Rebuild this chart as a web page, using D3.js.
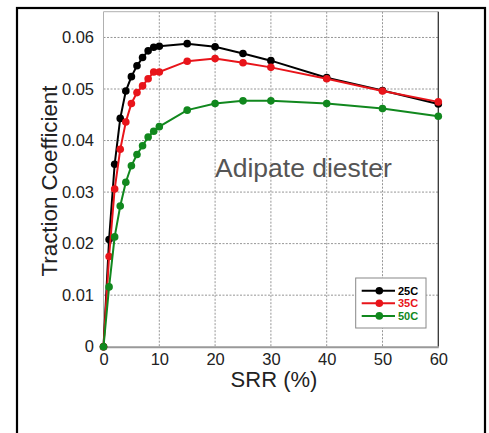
<!DOCTYPE html>
<html>
<head>
<meta charset="utf-8">
<script src="https://cdn.jsdelivr.net/npm/d3@7"></script>
<style>
  html, body { margin: 0; padding: 0; background: #fff; }
  svg { display: block; font-family: Arial, "Liberation Sans", sans-serif; }
</style>
</head>
<body>
<svg id="chart" width="489" height="433"></svg>
<script>
// Slide-to-roll ratio (%) at which traction was measured
const srr = [0, 1, 2, 3, 4, 5, 6, 7, 8, 9, 10, 15, 20, 25, 30, 40, 50, 60];

// Traction coefficient for each test temperature
const traction25C = [0, 0.0208, 0.0354, 0.0443, 0.0496, 0.0524, 0.0545, 0.0561, 0.0574, 0.0581, 0.0583,
                     0.0588, 0.0582, 0.0569, 0.0555, 0.0522, 0.0497, 0.0471];
const traction35C = [0, 0.0175, 0.0306, 0.0383, 0.0436, 0.0472, 0.0493, 0.0506, 0.0520, 0.0533, 0.0533,
                     0.0554, 0.0559, 0.0551, 0.0542, 0.0520, 0.0496, 0.0475];
const traction50C = [0, 0.0116, 0.0213, 0.0273, 0.0319, 0.0351, 0.0373, 0.0390, 0.0407, 0.0418, 0.0427,
                     0.0459, 0.0472, 0.0477, 0.0477, 0.0472, 0.0462, 0.0447];

const seriesNames = ["25C", "35C", "50C"];
const seriesColors = ["#000000", "#e8141a", "#11881e"];

const xTicks = [0, 10, 20, 30, 40, 50, 60];
const yTicks = [0, 0.01, 0.02, 0.03, 0.04, 0.05, 0.06];
const yTickLabels = ["0", "0.01", "0.02", "0.03", "0.04", "0.05", "0.06"];

const series = [traction25C, traction35C, traction50C].map((vals, i) => ({
  name: seriesNames[i],
  color: seriesColors[i],
  points: srr.map((s, j) => ({ x: s, y: vals[j] }))
}));

const svg = d3.select("#chart");

// Outer frame
svg.append("rect")
  .attr("x", 17).attr("y", 8)
  .attr("width", 468).attr("height", 440)
  .attr("fill", "none").attr("stroke", "#000").attr("stroke-width", 2.2);

const plot = { left: 103.5, right: 438.3, top: 11.7, bottom: 346.7 };

const x = d3.scaleLinear().domain([0, 60]).range([plot.left, plot.right]);
const y = d3.scaleLinear().domain([0, 0.065]).range([plot.bottom, plot.top]);

// Grid lines
const grid = svg.append("g");
grid.selectAll("line.gx")
  .data(xTicks.filter(d => d > 0 && d < 60))
  .join("line")
  .attr("x1", d => x(d)).attr("x2", d => x(d))
  .attr("y1", plot.top).attr("y2", plot.bottom)
  .attr("stroke", "#8a8a8a").attr("stroke-width", 0.9)
  .attr("stroke-dasharray", "2,1.5");
grid.selectAll("line.gy")
  .data(yTicks.filter(d => d > 0))
  .join("line")
  .attr("x1", plot.left).attr("x2", plot.right)
  .attr("y1", d => y(d)).attr("y2", d => y(d))
  .attr("stroke", "#8a8a8a").attr("stroke-width", 0.9)
  .attr("stroke-dasharray", "2,1.5");

// Plot border
svg.append("line").attr("x1", plot.left).attr("x2", plot.right)
  .attr("y1", plot.top).attr("y2", plot.top)
  .attr("stroke", "#b0b0b0").attr("stroke-width", 1);
svg.append("line").attr("x1", plot.left).attr("x2", plot.left)
  .attr("y1", plot.top).attr("y2", plot.bottom)
  .attr("stroke", "#b0b0b0").attr("stroke-width", 1);
svg.append("line").attr("x1", plot.right).attr("x2", plot.right)
  .attr("y1", plot.top).attr("y2", plot.bottom)
  .attr("stroke", "#333").attr("stroke-width", 1.3);

// Axes built from the scales; domain path styled as the bottom frame line
const xAxis = d3.axisBottom(x).tickValues(xTicks).tickSize(0).tickPadding(6.6).tickFormat(d3.format("d"));
const gx = svg.append("g").attr("transform", `translate(0,${plot.bottom})`).call(xAxis);
gx.select(".domain").attr("stroke", "#999").attr("stroke-width", 2);
gx.selectAll("text").attr("font-size", 16.5).attr("fill", "#222")
  .attr("font-family", "Arial, 'Liberation Sans', sans-serif");

const yAxis = d3.axisLeft(y).tickValues(yTicks).tickSize(0).tickPadding(9.5)
  .tickFormat((d, i) => yTickLabels[i]);
const gy = svg.append("g").attr("transform", `translate(${plot.left},0)`).call(yAxis);
gy.select(".domain").remove();
gy.selectAll("text").attr("font-size", 16.5).attr("fill", "#222")
  .attr("font-family", "Arial, 'Liberation Sans', sans-serif");

// Axis titles
svg.append("text")
  .attr("x", 274).attr("y", 387)
  .attr("text-anchor", "middle")
  .attr("font-size", 22).attr("fill", "#222")
  .text("SRR (%)");
svg.append("text")
  .attr("transform", "translate(57.3,181) rotate(-90)")
  .attr("text-anchor", "middle")
  .attr("font-size", 22.3).attr("fill", "#222")
  .text("Traction Coefficient");

// Annotation
svg.append("text")
  .attr("x", 215).attr("y", 177)
  .attr("font-size", 26.5).attr("fill", "#555")
  .text("Adipate diester");

// Series lines and markers
const line = d3.line().x(d => x(d.x)).y(d => y(d.y));
const gs = svg.append("g");
series.forEach(s => {
  gs.append("path")
    .datum(s.points)
    .attr("d", line)
    .attr("fill", "none")
    .attr("stroke", s.color)
    .attr("stroke-width", 2);
  gs.selectAll(null)
    .data(s.points)
    .join("circle")
    .attr("cx", d => x(d.x)).attr("cy", d => y(d.y))
    .attr("r", 3.8)
    .attr("fill", s.color);
});

// Legend
const legend = svg.append("g");
legend.append("rect")
  .attr("x", 355.7).attr("y", 278)
  .attr("width", 70.3).attr("height", 50)
  .attr("fill", "#fff").attr("stroke", "#888").attr("stroke-width", 1);
series.forEach((s, i) => {
  const ly = 290.7 + i * 12.6;
  legend.append("line")
    .attr("x1", 361.7).attr("x2", 395).attr("y1", ly).attr("y2", ly)
    .attr("stroke", s.color).attr("stroke-width", 2);
  legend.append("circle")
    .attr("cx", 379.3).attr("cy", ly).attr("r", 3.8).attr("fill", s.color);
  legend.append("text")
    .attr("x", 398).attr("y", ly + 4)
    .attr("font-size", 11).attr("font-weight", "bold").attr("fill", s.color)
    .text(s.name);
});
</script>
</body>
</html>
